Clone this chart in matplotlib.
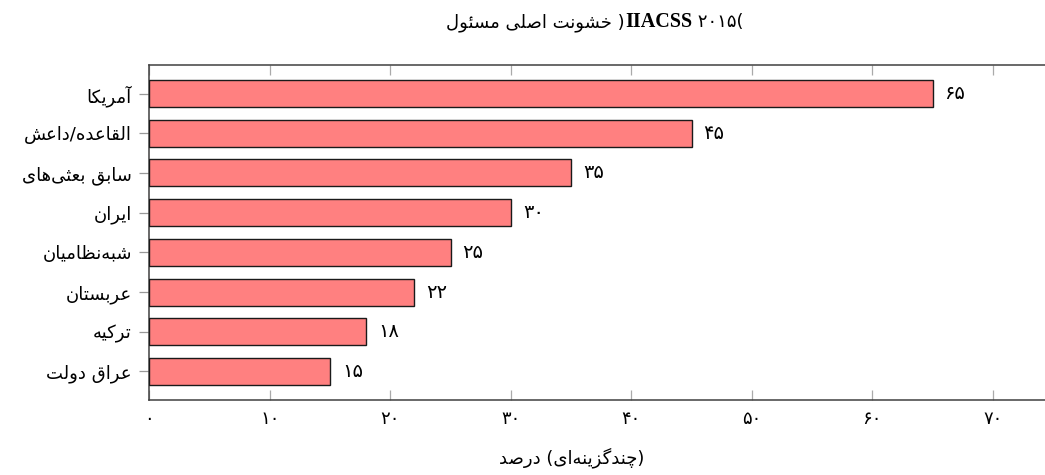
import matplotlib
matplotlib.use('Agg')
import matplotlib.pyplot as plt
import numpy as np
from matplotlib.offsetbox import TextArea, HPacker, AnchoredOffsetbox

# ---------------- data ----------------
categories = ["آمریکا", "القاعده/داعش", "بعثی‌های سابق", "ایران",
              "شبه‌نظامیان", "عربستان", "ترکیه", "دولت عراق"]
values = [65, 45, 35, 30, 25, 22, 18, 15]
xticks = [0, 10, 20, 30, 40, 50, 60, 70]
title_words = "مسئول اصلی خشونت"
title_source = "IIACSS"
title_year = 2015
xlabel_text = "درصد (چندگزینه‌ای)"

plt.rcParams['font.family'] = ['DejaVu Sans']

# ---------------- simple Arabic/Persian shaping ----------------
DUAL_BASE = {
    'ب': 0xFE8F, 'پ': 0xFB56, 'ت': 0xFE95, 'ث': 0xFE99, 'ج': 0xFE9D,
    'چ': 0xFB7A, 'ح': 0xFEA1, 'خ': 0xFEA5, 'س': 0xFEB1, 'ش': 0xFEB5,
    'ص': 0xFEB9, 'ض': 0xFEBD, 'ط': 0xFEC1, 'ظ': 0xFEC5, 'ع': 0xFEC9,
    'غ': 0xFECD, 'ف': 0xFED1, 'ق': 0xFED5, 'ک': 0xFB8E, 'گ': 0xFB92,
    'ل': 0xFEDD, 'م': 0xFEE1, 'ن': 0xFEE5, 'ه': 0xFEE9, 'ی': 0xFBFC,
    'ئ': 0xFE89, 'ي': 0xFEF1, 'ك': 0xFED9,
}
RIGHT_BASE = {
    'ا': 0xFE8D, 'آ': 0xFE81, 'د': 0xFEA9, 'ذ': 0xFEAB, 'ر': 0xFEAD,
    'ز': 0xFEAF, 'ژ': 0xFB8A, 'و': 0xFEED, 'ة': 0xFE93, 'أ': 0xFE83,
    'إ': 0xFE87, 'ؤ': 0xFE85,
}


def shape(word):
    chars = list(word)
    out = []
    for i, c in enumerate(chars):
        if c == '\u200c':
            continue
        if c not in DUAL_BASE and c not in RIGHT_BASE:
            out.append(c)
            continue
        prev = chars[i - 1] if i > 0 else None
        nxt = chars[i + 1] if i + 1 < len(chars) else None
        jp = prev in DUAL_BASE
        jn = (c in DUAL_BASE) and (nxt in DUAL_BASE or nxt in RIGHT_BASE)
        if c in RIGHT_BASE:
            b = RIGHT_BASE[c]
            out.append(chr(b + 1) if jp else chr(b))
        else:
            b = DUAL_BASE[c]
            if jp and jn:
                out.append(chr(b + 3))
            elif jp:
                out.append(chr(b + 1))
            elif jn:
                out.append(chr(b + 2))
            else:
                out.append(chr(b))
    return out


def visual(s):
    toks = []
    for tok in s.split(' '):
        lead = tok[:1] if tok[:1] in '()' else ''
        core = tok[len(lead):]
        trail = core[-1:] if core[-1:] in '()' else ''
        core = core[:len(core) - len(trail)]
        sh = shape(core)
        if any(ord(ch) >= 0xFB50 for ch in sh):
            sh = sh[::-1]
        toks.append(lead + ''.join(sh) + trail)
    return ' '.join(toks)


def fa(n):
    return str(n).translate(str.maketrans('0123456789', '۰۱۲۳۴۵۶۷۸۹'))


# ---------------- figure ----------------
W, H = 1045, 475
fig = plt.figure(figsize=(W / 100, H / 100), dpi=100)
x0, xmax = 149.3, 75
ax = fig.add_axes([x0 / W, 1 - 400 / H, xmax * 12.05 / W, 335 / H])

y = np.arange(len(categories))
ax.barh(y, values, height=0.68, color='#FF8080', edgecolor='#1a1a1a',
        linewidth=1.0, zorder=3)
ax.set_xlim(0, xmax)
ax.set_ylim(len(categories) - 1 + 0.72, -0.72)

ax.set_yticks(y, labels=[visual(c) for c in categories])
ax.set_xticks(xticks, labels=[fa(t) for t in xticks])
ax.tick_params(axis='y', direction='out', length=7, width=0.9,
               color='#999999', pad=5.5, labelsize=13)
ax.tick_params(axis='x', direction='in', length=7, width=0.9,
               color='#aaaaaa', top=True, labelsize=13, pad=7)
ax.spines['right'].set_visible(False)
for s in ['left', 'top', 'bottom']:
    ax.spines[s].set_color('#404040')
    ax.spines[s].set_linewidth(1.1)

for i, v in enumerate(values):
    ax.annotate(fa(v), xy=(v, i), xytext=(12, 0), textcoords='offset pixels',
                ha='left', va='center', fontsize=14)

# x label
fig.text(572 / W, 1 - 458 / H, visual(xlabel_text), ha='center',
         va='center', fontsize=13)

# title built from pieces (Persian words + bold source + year)
parts = [
    TextArea(visual(title_words) + ' )',
             textprops=dict(fontsize=13, family='DejaVu Sans')),
    TextArea(title_source,
             textprops=dict(fontsize=14.5, family='Liberation Serif',
                            weight='bold')),
    TextArea(' ' + fa(title_year) + '(',
             textprops=dict(fontsize=13, family='DejaVu Sans')),
]
box = HPacker(children=parts, align='baseline', pad=0, sep=0)
anch = AnchoredOffsetbox(loc='center', child=box, pad=0, frameon=False,
                         bbox_to_anchor=(595 / W, 1 - 22 / H),
                         bbox_transform=fig.transFigure, borderpad=0)
fig.add_artist(anch)

fig.savefig('out.png', dpi=100)
